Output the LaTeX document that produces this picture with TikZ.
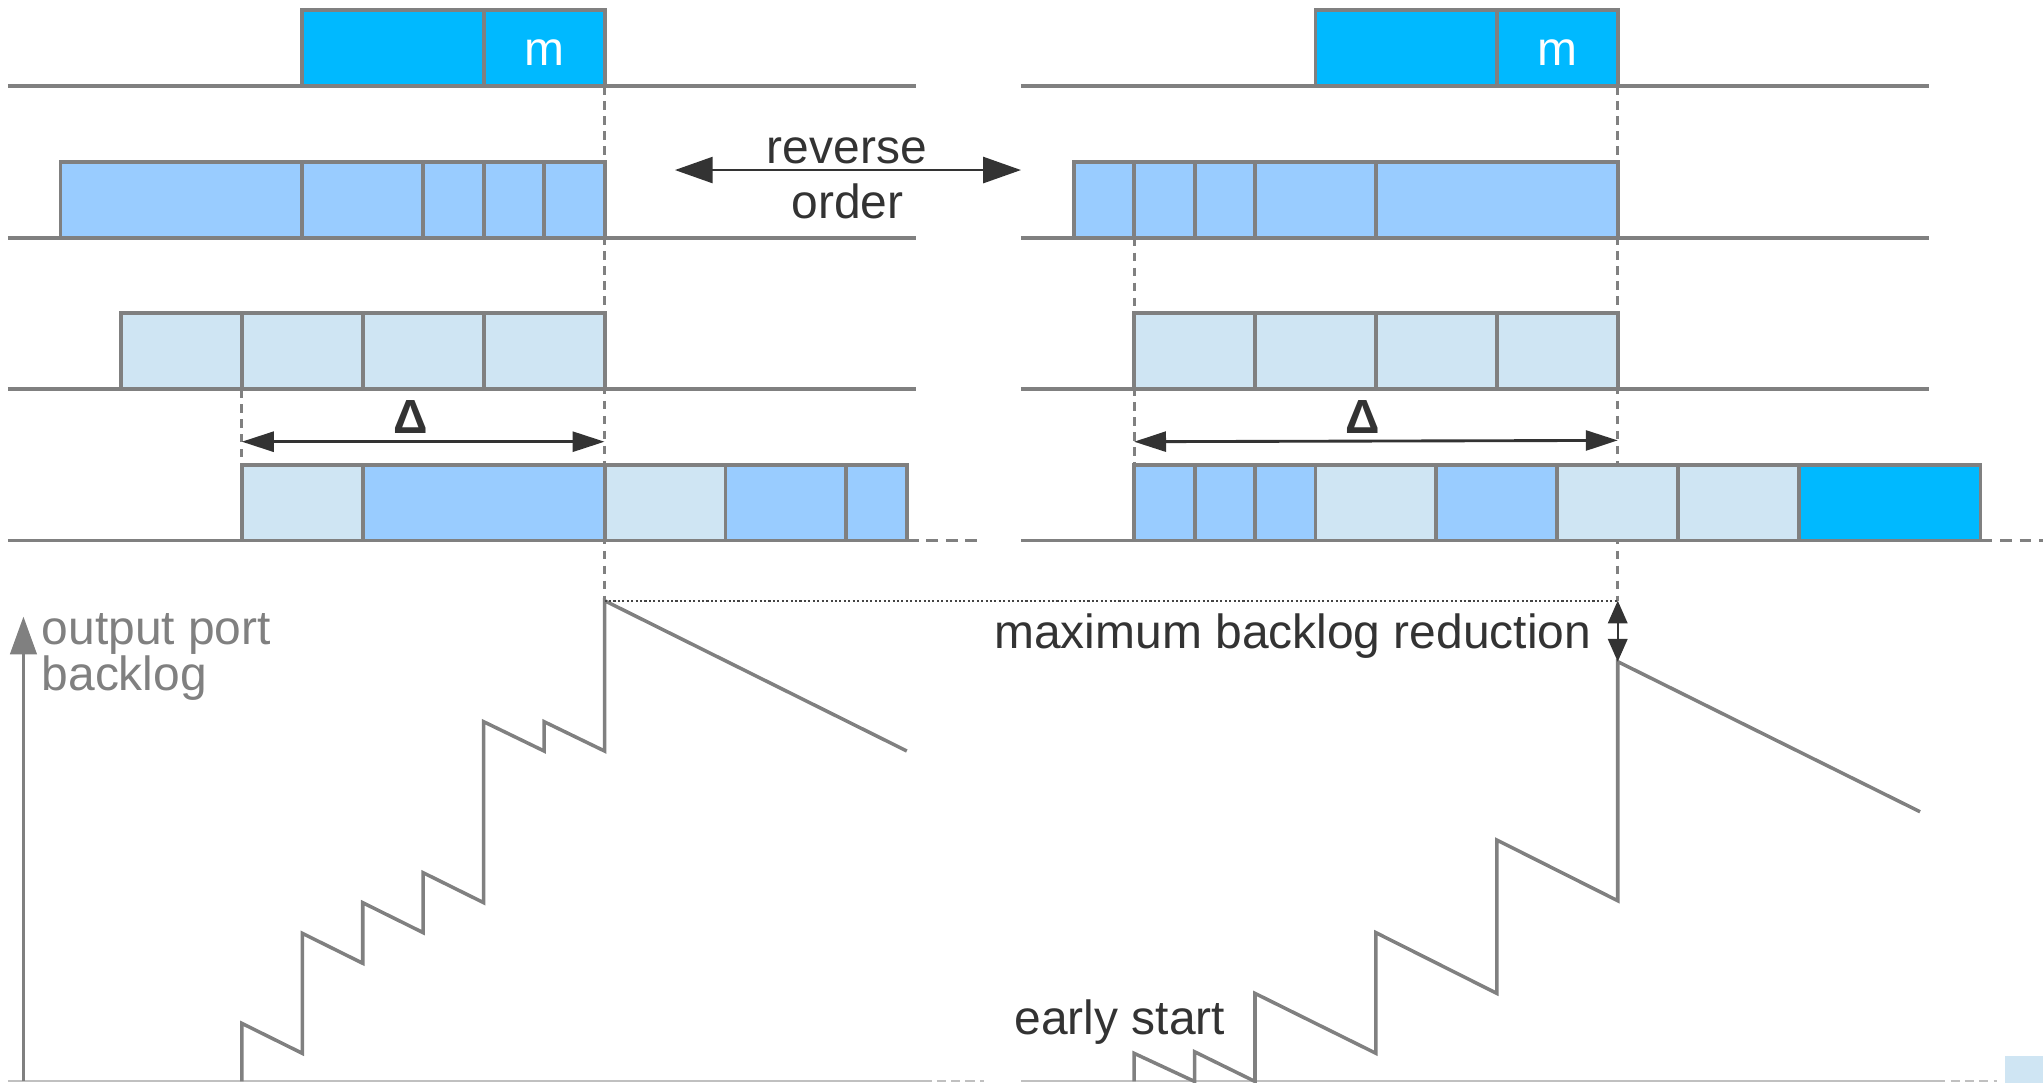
\documentclass[tikz,border=0pt]{standalone}
\usepackage{fontspec}
\setmainfont{Liberation Sans}
\usetikzlibrary{arrows.meta}

\definecolor{linegray}{HTML}{808080}
\definecolor{axisgray}{HTML}{C0C0C0}
\definecolor{textdark}{HTML}{333333}
\definecolor{dotdark}{HTML}{444444}
\definecolor{pktbright}{HTML}{00B9FF}
\definecolor{pktlight}{HTML}{99CCFF}
\definecolor{pktpale}{HTML}{CFE5F3}

% one packet cell: fill colour, panel offset, start slot, end slot, top edge
\newcommand\cellbox[5]{\path[cell,fill=#1] ({#2+#3*46.4},#5) rectangle ({#2+#4*46.4},{#5+58.2});}

\begin{document}
\begin{tikzpicture}[x=1pt,y=-1pt,
  rowline/.style={draw=linegray,line width=3pt},
  rowtail/.style={draw=linegray,line width=3pt,dash pattern=on 9pt off 6pt},
  cell/.style={draw=linegray,line width=3pt,line join=miter},
  guide/.style={draw=linegray,line width=2.2pt,dash pattern=on 6.5pt off 5pt},
  axisline/.style={draw=axisgray,line width=1.6pt},
  axistail/.style={draw=axisgray,line width=1.6pt,dash pattern=on 7pt off 4pt},
  trace/.style={draw=linegray,line width=2.7pt,line join=miter},
  lbl/.style={font=\fontsize{36.8}{40}\selectfont,text=textdark,inner sep=0pt},
  dimarrow/.style={draw=textdark,line width=2.2pt,{Triangle[length=24.5pt,width=15.3pt]}-{Triangle[length=24.5pt,width=15.3pt]}},
]
\useasboundingbox (0,0) rectangle (1568,831);

% ---- time lines of the four ports, both panels
\foreach \y in {66.2,182.4,298.6}{
  \draw[rowline] (6,\y) -- (703,\y);
  \draw[rowline] (783.6,\y) -- (1480.6,\y);
}
\draw[rowline] (6,414.8) -- (696,414.8);
\draw[rowtail] (696,414.8) -- (753,414.8);
\draw[rowline] (783.6,414.8) -- (1520,414.8);
\draw[rowtail] (1520,414.8) -- (1568,414.8);

% ---- backlog axes
\draw[axisline] (6,830) -- (708,830);
\draw[axistail] (708,830) -- (755,830);
\draw[axisline] (783.6,830) -- (1486,830);
\draw[axistail] (1486,830) -- (1533,830);
\coordinate (yaxisfoot) at (18,830);
\coordinate (yaxistop) at (18,473.3);
\draw[draw=linegray,line width=1.8pt,-{Triangle[length=29pt,width=20.5pt,color=linegray]}] (yaxisfoot) -- (yaxistop);

% ---- vertical guides
\draw[guide] (464,66.2) -- (464,461);
\draw[guide] (185.6,298.6) -- (185.6,356.6);
\draw[guide] (1241.6,66.2) -- (1241.6,461);
\draw[guide] (870.4,182.4) -- (870.4,356.6);

% ---- packets, left panel
\cellbox{pktbright}{0}{5}{8}{8}
\cellbox{pktbright}{0}{8}{10}{8}
\cellbox{pktlight}{0}{1}{5}{124.2}
\cellbox{pktlight}{0}{5}{7}{124.2}
\cellbox{pktlight}{0}{7}{8}{124.2}
\cellbox{pktlight}{0}{8}{9}{124.2}
\cellbox{pktlight}{0}{9}{10}{124.2}
\cellbox{pktpale}{0}{2}{4}{240.4}
\cellbox{pktpale}{0}{4}{6}{240.4}
\cellbox{pktpale}{0}{6}{8}{240.4}
\cellbox{pktpale}{0}{8}{10}{240.4}
\cellbox{pktpale}{0}{4}{6}{356.6}
\cellbox{pktlight}{0}{6}{10}{356.6}
\cellbox{pktpale}{0}{10}{12}{356.6}
\cellbox{pktlight}{0}{12}{14}{356.6}
\cellbox{pktlight}{0}{14}{15}{356.6}

% ---- packets, right panel
\cellbox{pktbright}{777.6}{5}{8}{8}
\cellbox{pktbright}{777.6}{8}{10}{8}
\cellbox{pktlight}{777.6}{1}{2}{124.2}
\cellbox{pktlight}{777.6}{2}{3}{124.2}
\cellbox{pktlight}{777.6}{3}{4}{124.2}
\cellbox{pktlight}{777.6}{4}{6}{124.2}
\cellbox{pktlight}{777.6}{6}{10}{124.2}
\cellbox{pktpale}{777.6}{2}{4}{240.4}
\cellbox{pktpale}{777.6}{4}{6}{240.4}
\cellbox{pktpale}{777.6}{6}{8}{240.4}
\cellbox{pktpale}{777.6}{8}{10}{240.4}
\cellbox{pktlight}{777.6}{2}{3}{356.6}
\cellbox{pktlight}{777.6}{3}{4}{356.6}
\cellbox{pktlight}{777.6}{4}{5}{356.6}
\cellbox{pktpale}{777.6}{5}{7}{356.6}
\cellbox{pktlight}{777.6}{7}{9}{356.6}
\cellbox{pktpale}{777.6}{9}{11}{356.6}
\cellbox{pktpale}{777.6}{11}{13}{356.6}
\cellbox{pktbright}{777.6}{13}{16}{356.6}

\fill[pktpale] (1539,810.5) rectangle (1568,832);

% ---- packet labels
\node[lbl,text=white,anchor=base] (mleft) at (417.6,50) {m};
\node[lbl,text=white,anchor=base] (mright) at (1195.2,50) {m};

% ---- backlog curves
\draw[trace] (185.6,830) -- (185.6,785.4) -- (232,808.4) -- (232,716.3)
  -- (278.4,739.3) -- (278.4,692.8) -- (324.8,715.8) -- (324.8,669.8)
  -- (371.2,692.8) -- (371.2,553.9) -- (417.6,576.4) -- (417.6,553.9)
  -- (464,576.4) -- (464,461) -- (696,576.4);
\draw[trace] (870.4,830) -- (870.4,808.4) -- (916.8,830) -- (916.8,807.2)
  -- (963.2,830) -- (963.2,762.4) -- (1056,808.4) -- (1056,715.8)
  -- (1148.8,762.4) -- (1148.8,644.7) -- (1241.6,691.3) -- (1241.6,507.8)
  -- (1473.6,623);

% ---- peak levels
\coordinate (peakleft) at (464,461);
\coordinate (peakright) at (1241.6,461);
\coordinate (peaklow) at (1241.6,507.8);
\draw[draw=dotdark,line width=1.4pt,dash pattern=on 1.6pt off 1.8pt] (peakleft) -- (peakright);
\draw[draw=textdark,line width=1.3pt,{Triangle[length=17.4pt,width=15pt]}-{Triangle[length=17.4pt,width=15pt]}] (peakright) -- (peaklow);

% ---- offset arrows
\coordinate (dla) at (185.6,339);
\coordinate (dlb) at (464,339);
\coordinate (dra) at (870.4,339);
\coordinate (drb) at (1241.6,338);
\draw[dimarrow] (dla) -- (dlb);
\draw[dimarrow] (dra) -- (drb);
\node[lbl,anchor=base,font=\fontsize{36.8}{40}\selectfont\bfseries] (deltaleft) at (315.5,332.6) {Δ};
\node[lbl,anchor=base,font=\fontsize{36.8}{40}\selectfont\bfseries] (deltaright) at (1046,332.6) {Δ};

% ---- reverse order
\coordinate (revl) at (518,130.5);
\coordinate (revr) at (783.6,130.5);
\draw[draw=textdark,line width=1.8pt,{Triangle[length=29pt,width=20pt]}-{Triangle[length=29pt,width=20pt]}] (revl) -- (revr);
\node[lbl,anchor=base] (rev1) at (650,125.4) {reverse};
\node[lbl,anchor=base] (rev2) at (650.5,167.6) {order};

% ---- other labels
\node[lbl,anchor=base east] (maxred) at (1221.5,497.6) {maximum backlog reduction};
\node[lbl,anchor=base west] (early) at (778.5,793.8) {early start};
\node[lbl,anchor=base west,text=linegray] (ylab1) at (31.8,495) {output port};
\node[lbl,anchor=base west,text=linegray] (ylab2) at (31.8,530) {backlog};
\end{tikzpicture}
\end{document}
